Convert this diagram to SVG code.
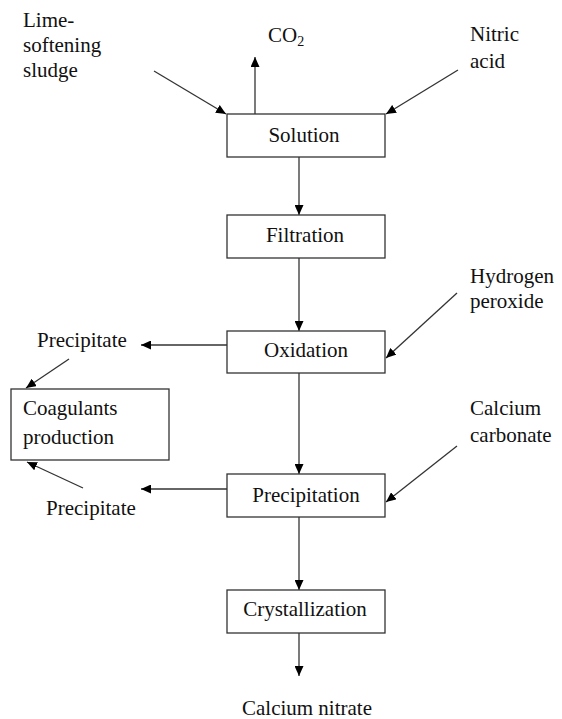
<svg xmlns="http://www.w3.org/2000/svg" width="562" height="719" viewBox="0 0 562 719">
<style>
.box{fill:#fff;stroke:#333;stroke-width:1.3}
.t{font-family:'Liberation Serif','Times New Roman',serif;font-size:21px;fill:#111}
.c{text-anchor:middle}
.e{fill:none;stroke:#333;stroke-width:1.3;marker-end:url(#ah)}
</style>
<defs>
<marker id="ah" markerUnits="userSpaceOnUse" markerWidth="10" markerHeight="9" refX="10" refY="4.5" orient="auto">
<path d="M0,0 L10,4.5 L0,9 z" fill="#000"/>
</marker>
</defs>
<rect width="562" height="719" fill="#fff"/>
<g id="connectors">
<line class="e" x1="154" y1="71" x2="226" y2="114"/>
<line class="e" x1="255" y1="114" x2="255" y2="57"/>
<line class="e" x1="458" y1="70" x2="386" y2="114"/>
<line class="e" x1="299" y1="157" x2="299" y2="215"/>
<line class="e" x1="299" y1="258" x2="299" y2="331"/>
<line class="e" x1="227" y1="345" x2="141" y2="345"/>
<line class="e" x1="457" y1="293" x2="386" y2="358"/>
<line class="e" x1="69" y1="359" x2="26" y2="388"/>
<line class="e" x1="299" y1="373" x2="299" y2="474"/>
<line class="e" x1="457" y1="446" x2="386" y2="502"/>
<line class="e" x1="227" y1="489" x2="141" y2="489"/>
<line class="e" x1="83" y1="488" x2="27" y2="462"/>
<line class="e" x1="299" y1="517" x2="299" y2="590"/>
<line class="e" x1="299" y1="633" x2="299" y2="676"/>
</g>
<g id="solution"><rect class="box" x="227" y="114" width="158" height="43"/><text class="t c" x="304" y="142">Solution</text></g>
<g id="filtration"><rect class="box" x="227" y="215" width="158" height="43"/><text class="t c" x="305" y="242">Filtration</text></g>
<g id="oxidation"><rect class="box" x="227" y="331" width="158" height="42"/><text class="t c" x="306" y="357">Oxidation</text></g>
<g id="precipitation"><rect class="box" x="227" y="474" width="158" height="43"/><text class="t c" x="306" y="502">Precipitation</text></g>
<g id="crystallization"><rect class="box" x="227" y="590" width="158" height="43"/><text class="t c" x="305" y="616">Crystallization</text></g>
<g id="coagulants"><rect class="box" x="11" y="389" width="158" height="71"/><text class="t" x="23" y="415">Coagulants</text><text class="t" x="23" y="444">production</text></g>
<g id="lime"><text class="t" x="23" y="27">Lime-</text><text class="t" x="23" y="52">softening</text><text class="t" x="23" y="77">sludge</text></g>
<g id="co2"><text class="t" x="268" y="42">CO<tspan font-size="14" dy="4">2</tspan></text></g>
<g id="nitric"><text class="t" x="470" y="41">Nitric</text><text class="t" x="470" y="68">acid</text></g>
<g id="hydrogen"><text class="t" x="470" y="283">Hydrogen</text><text class="t" x="470" y="308">peroxide</text></g>
<g id="calcium-carbonate"><text class="t" x="470" y="415">Calcium</text><text class="t" x="470" y="442">carbonate</text></g>
<g id="precipitate1"><text class="t" x="37" y="347">Precipitate</text></g>
<g id="precipitate2"><text class="t" x="46" y="515">Precipitate</text></g>
<g id="calcium-nitrate"><text class="t c" x="307" y="715">Calcium nitrate</text></g>
</svg>
